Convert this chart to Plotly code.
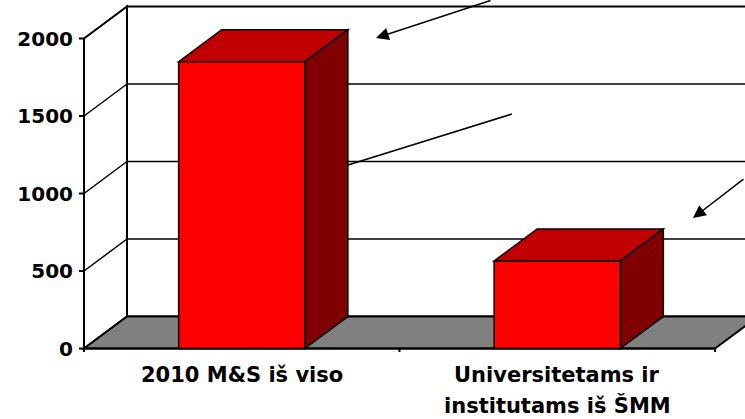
import plotly.graph_objects as go

# ---- data ----
categories = ["2010 M&S iš viso", "Universitetams ir<br>institutams iš ŠMM"]
values = [1850, 565]
y_ticks = [0, 500, 1000, 1500, 2000]

# ---- geometry (layout only) ----
W, H = 745, 419
X0_PX = 84          # pixel of x=0
PX_PER_X = 315.5    # pixels per category unit
Y0_PX = 348.5       # pixel of value 0
PX_PER_V = 0.155    # pixels per value unit
DEPTH_PX_X, DEPTH_PX_Y = 43, 32
dx = DEPTH_PX_X / PX_PER_X
dy = DEPTH_PX_Y / PX_PER_V

ML, MT, MB = 74, 3, 67
plot_bottom = H - MB
xr = [(ML - X0_PX) / PX_PER_X, (W - X0_PX) / PX_PER_X]
yr = [(Y0_PX - plot_bottom) / PX_PER_V, (Y0_PX - MT) / PX_PER_V]
ncat = len(categories)
ymax = y_ticks[-1]
far = xr[1] + 1
bar_w = 0.4

FRONT = "#FF0000"
TOP = "#C00000"
SIDE = "#800000"
FONT = "DejaVu Sans"

shapes = []
def path(pts, fill, lw=2, color="black"):
    d = "M " + " L ".join(f"{x},{y}" for x, y in pts) + " Z"
    shapes.append(dict(type="path", path=d, xref="x", yref="y", fillcolor=fill,
                       line=dict(color=color, width=lw), layer="below"))

def line(x0, y0, x1, y1, lw=2):
    shapes.append(dict(type="line", x0=x0, y0=y0, x1=x1, y1=y1, xref="x", yref="y",
                       line=dict(color="black", width=lw), layer="below"))

# back wall
path([(dx, dy), (far, dy), (far, ymax + dy), (dx, ymax + dy)], "white")
# left wall
path([(0, 0), (dx, dy), (dx, ymax + dy), (0, ymax)], "white")
# floor
path([(0, 0), (ncat, 0), (ncat + dx, dy), (dx, dy)], "#808080")
# gridlines
for v in y_ticks[1:-1]:
    line(0, v, dx, v + dy, 1.5)
    line(dx, v + dy, far, v + dy, 1.5)
# axes
line(0, 0, 0, ymax, 2)
line(0, 0, ncat, 0, 2)
tick_x = 5 / PX_PER_X
tick_y = 5 / PX_PER_V
for v in y_ticks:
    line(-tick_x, v, 0, v, 2)
for i in range(ncat + 1):
    line(i, 0, i, -tick_y, 2)

# bar 3D faces
for i, v in enumerate(values):
    c = i + 0.5
    x0, x1 = c - bar_w / 2, c + bar_w / 2
    path([(x0, v), (x1, v), (x1 + dx, v + dy), (x0 + dx, v + dy)], TOP, 1.5)
    path([(x1, 0), (x1 + dx, dy), (x1 + dx, v + dy), (x1, v)], SIDE, 1.5)

fig = go.Figure()
fig.add_trace(go.Bar(
    x=[i + 0.5 for i in range(ncat)], y=values, width=bar_w,
    marker=dict(color=FRONT, line=dict(color="black", width=1.5)),
    hoverinfo="skip", showlegend=False,
))

pw = W - ML
ph = plot_bottom - MT
def px2paper(px, py):
    return (px - ML) / pw, (plot_bottom - py) / ph

annotations = []
# category labels, one annotation per line for the wider line spacing of the original
LINE1_PX, LINE_GAP = 375, 31
for i, cat in enumerate(categories):
    for j, txt in enumerate(cat.split("<br>")):
        _, ly = px2paper(0, LINE1_PX + j * LINE_GAP)
        annotations.append(dict(x=i + 0.5, y=ly, xref="x", yref="paper", text=txt,
                                showarrow=False, xanchor="center", yanchor="middle",
                                font=dict(family=FONT, size=21, color="black", weight="bold")))

for head, tail in [((376, 38), (492, 0)), ((693, 218), (745, 178))]:
    hx, hy = px2paper(*head)
    annotations.append(dict(x=hx, y=hy, xref="paper", yref="paper", text="",
                            showarrow=True, ax=tail[0] - head[0], ay=tail[1] - head[1],
                            arrowhead=2, arrowsize=1.7, arrowwidth=1.5, arrowcolor="black",
                            standoff=0, startstandoff=0))
lx0, ly0 = px2paper(348, 165)
lx1, ly1 = px2paper(512, 114)
shapes.append(dict(type="line", xref="paper", yref="paper", x0=lx0, y0=ly0, x1=lx1, y1=ly1,
                   line=dict(color="black", width=1.5), layer="above"))

fig.update_layout(
    width=W, height=H,
    margin=dict(l=ML, r=0, t=MT, b=MB, pad=0, autoexpand=False),
    paper_bgcolor="white", plot_bgcolor="white",
    shapes=shapes, annotations=annotations,
    xaxis=dict(range=xr, showgrid=False, zeroline=False, showline=False, automargin=False,
               showticklabels=False, ticks=""),
    yaxis=dict(range=yr, showgrid=False, zeroline=False, showline=False, automargin=False,
               tickmode="array", tickvals=y_ticks, ticks="",
               tickfont=dict(family=FONT, size=20, color="black", weight="bold"),
               ticklabelstandoff=0),
    showlegend=False,
)
fig.write_html("out.html", config={"displayModeBar": False},
               post_script="document.body.style.margin='0';document.body.style.overflow='hidden';")
